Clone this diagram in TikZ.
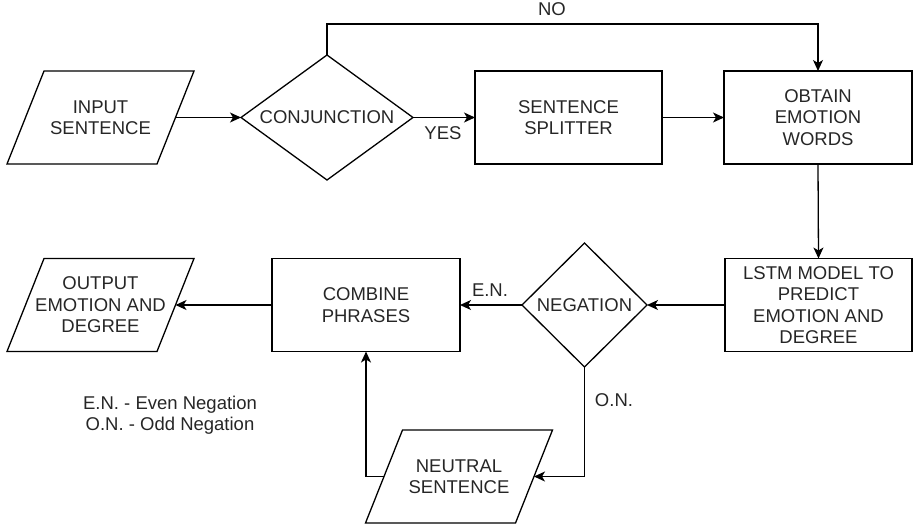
\documentclass[tikz,border=0pt]{standalone}
\usepackage{fontspec}
\setmainfont{Liberation Sans}
\usetikzlibrary{shapes.geometric,arrows.meta,calc}
\tikzset{
  base/.style={inner sep=0pt,outer sep=0pt,align=center,font=\fontsize{18.5}{21.5}\selectfont,text=black!85},
  box/.style={base,draw,line width=1.3pt,minimum width=#1,minimum height=93pt},
  parabox/.style={base,minimum width=150pt,minimum height=93pt},
  decbox/.style={base},
  arr/.style={line width=1.3pt,-{Stealth[length=11pt,width=10pt,inset=3pt]}},
  lbl/.style={base}
}
\newcommand{\paraoutline}[1]{%
  \draw[line width=1.3pt] ($(#1.center)+(-56.5,-46.5)$) -- ($(#1.center)+(93.5,-46.5)$)
    -- ($(#1.center)+(56.5,46.5)$) -- ($(#1.center)+(-93.5,46.5)$) -- cycle;}
\newcommand{\decoutline}[1]{%
  \draw[line width=1.3pt] (#1.north) -- (#1.east) -- (#1.south) -- (#1.west) -- cycle;}
\begin{document}
\begin{tikzpicture}[x=1pt,y=-1pt]
\useasboundingbox (0,0) rectangle (916,528);
\node[parabox] (input) at (100.5,117.5) {INPUT\\SENTENCE};
\paraoutline{input}
\node[decbox,minimum width=172pt,minimum height=125pt] (conj) at (327,117.5) {CONJUNCTION};
\decoutline{conj}
\node[box=187pt] (split) at (568.5,117.5) {SENTENCE\\SPLITTER};
\node[box=188pt] (obtain) at (818,117.5) {OBTAIN\\EMOTION\\WORDS};
\node[box=187pt] (lstm) at (818.5,305) {LSTM MODEL TO\\PREDICT\\EMOTION AND\\DEGREE};
\node[decbox,minimum width=125pt,minimum height=124pt] (neg) at (584.5,305) {NEGATION};
\decoutline{neg}
\node[box=188pt] (comb) at (366,305) {COMBINE\\PHRASES};
\node[parabox] (out) at (100.5,305) {OUTPUT\\EMOTION AND\\DEGREE};
\paraoutline{out}
\node[parabox] (neut) at (459,476.5) {NEUTRAL\\SENTENCE};
\paraoutline{neut}

\draw[arr] (input.east) -- (conj.west);
\draw[arr] (conj.east) -- (split.west);
\draw[arr] (split.east) -- (obtain.west);
\draw[arr] (conj.north) -- ++(0,-31) coordinate (nocorner) -| (obtain.north);
\draw[arr] (obtain.south) -- (lstm.north);
\draw[arr] (lstm.west) -- (neg.east);
\draw[arr] (neg.west) -- (comb.east);
\draw[arr] (comb.west) -- (out.east);
\draw[arr] (neg.south) |- (neut.east);
\draw[arr] (neut.west) -| (comb.south);

\node[lbl] (no) at (552,9) {NO};
\node[lbl] (yes) at (443,133) {YES};
\node[lbl] (en) at (490,290) {E.N.};
\node[lbl] (on) at (614,400) {O.N.};
\node[lbl] (legend) at (170,415) {E.N. - Even Negation\\O.N. - Odd Negation};
\end{tikzpicture}
\end{document}
